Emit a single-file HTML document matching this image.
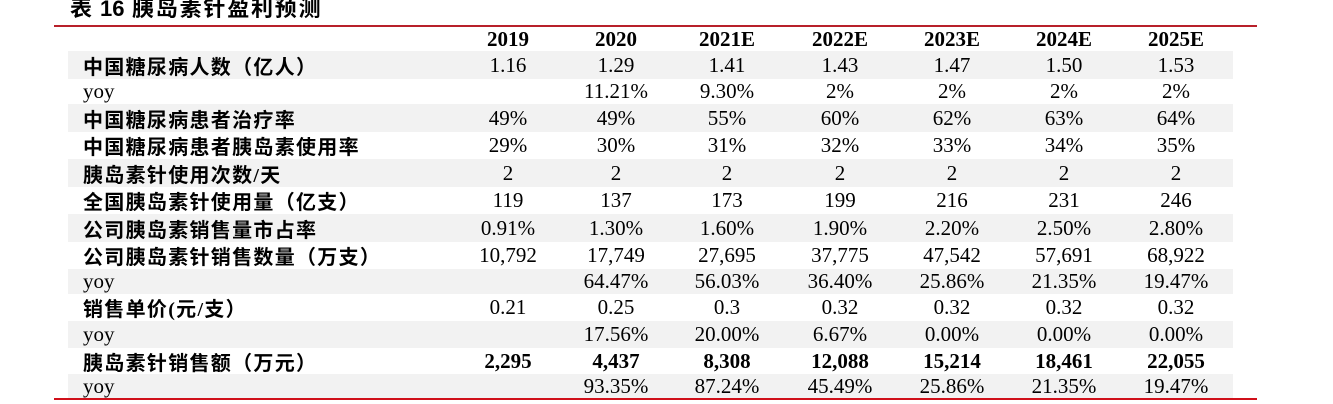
<!DOCTYPE html>
<html><head><meta charset="utf-8">
<style>
html,body{margin:0;padding:0;background:#fff;}
body{width:1333px;height:404px;position:relative;overflow:hidden;}
.t{position:absolute;font-family:"Liberation Sans","Noto Sans CJK SC",sans-serif;font-weight:bold;font-size:22px;line-height:22px;top:-2px;color:#000;white-space:nowrap;}
.line{position:absolute;left:54px;width:1203px;height:2px;}
.row{position:absolute;left:0;width:1333px;}
.bg{position:absolute;left:68px;width:1165px;top:0;bottom:0;background:#f2f2f2;}
.lab{position:absolute;left:83px;top:0;bottom:0;display:flex;align-items:center;font-family:"Liberation Serif","Noto Sans CJK SC",serif;font-weight:bold;font-size:20px;letter-spacing:1.3px;color:#000;white-space:nowrap;}
.lab.y{font-weight:normal;font-size:21px;letter-spacing:0;}
.c{position:absolute;top:0;bottom:0;width:120px;display:flex;align-items:center;justify-content:center;font-family:"Liberation Serif",serif;font-size:21px;color:#000;white-space:nowrap;}
.b .c{font-weight:bold;}
</style></head><body>
<div class="t" style="left:70px;">表</div>
<div class="t" style="left:100px;">16</div>
<div class="t" style="left:132px;letter-spacing:1.8px;">胰岛素针盈利预测</div>
<div class="line" style="top:25px;background:#b8202a;"></div>

<div class="row b" style="top:27px;height:24px;">
<div class="c" style="left:448px">2019</div><div class="c" style="left:556px">2020</div><div class="c" style="left:667px">2021E</div><div class="c" style="left:780px">2022E</div><div class="c" style="left:892px">2023E</div><div class="c" style="left:1004px">2024E</div><div class="c" style="left:1116px">2025E</div>
</div>

<div class="row" style="top:51px;height:28px;"><div class="bg"></div><div class="lab">中国糖尿病人数（亿人）</div>
<div class="c" style="left:448px">1.16</div><div class="c" style="left:556px">1.29</div><div class="c" style="left:667px">1.41</div><div class="c" style="left:780px">1.43</div><div class="c" style="left:892px">1.47</div><div class="c" style="left:1004px">1.50</div><div class="c" style="left:1116px">1.53</div></div>

<div class="row" style="top:79px;height:25px;"><div class="lab y">yoy</div>
<div class="c" style="left:556px">11.21%</div><div class="c" style="left:667px">9.30%</div><div class="c" style="left:780px">2%</div><div class="c" style="left:892px">2%</div><div class="c" style="left:1004px">2%</div><div class="c" style="left:1116px">2%</div></div>

<div class="row" style="top:104px;height:28px;"><div class="bg"></div><div class="lab">中国糖尿病患者治疗率</div>
<div class="c" style="left:448px">49%</div><div class="c" style="left:556px">49%</div><div class="c" style="left:667px">55%</div><div class="c" style="left:780px">60%</div><div class="c" style="left:892px">62%</div><div class="c" style="left:1004px">63%</div><div class="c" style="left:1116px">64%</div></div>

<div class="row" style="top:132px;height:27px;"><div class="lab">中国糖尿病患者胰岛素使用率</div>
<div class="c" style="left:448px">29%</div><div class="c" style="left:556px">30%</div><div class="c" style="left:667px">31%</div><div class="c" style="left:780px">32%</div><div class="c" style="left:892px">33%</div><div class="c" style="left:1004px">34%</div><div class="c" style="left:1116px">35%</div></div>

<div class="row" style="top:159px;height:28px;"><div class="bg"></div><div class="lab">胰岛素针使用次数/天</div>
<div class="c" style="left:448px">2</div><div class="c" style="left:556px">2</div><div class="c" style="left:667px">2</div><div class="c" style="left:780px">2</div><div class="c" style="left:892px">2</div><div class="c" style="left:1004px">2</div><div class="c" style="left:1116px">2</div></div>

<div class="row" style="top:187px;height:27px;"><div class="lab">全国胰岛素针使用量（亿支）</div>
<div class="c" style="left:448px">119</div><div class="c" style="left:556px">137</div><div class="c" style="left:667px">173</div><div class="c" style="left:780px">199</div><div class="c" style="left:892px">216</div><div class="c" style="left:1004px">231</div><div class="c" style="left:1116px">246</div></div>

<div class="row" style="top:214px;height:28px;"><div class="bg"></div><div class="lab">公司胰岛素销售量市占率</div>
<div class="c" style="left:448px">0.91%</div><div class="c" style="left:556px">1.30%</div><div class="c" style="left:667px">1.60%</div><div class="c" style="left:780px">1.90%</div><div class="c" style="left:892px">2.20%</div><div class="c" style="left:1004px">2.50%</div><div class="c" style="left:1116px">2.80%</div></div>

<div class="row" style="top:242px;height:27px;"><div class="lab">公司胰岛素针销售数量（万支）</div>
<div class="c" style="left:448px">10,792</div><div class="c" style="left:556px">17,749</div><div class="c" style="left:667px">27,695</div><div class="c" style="left:780px">37,775</div><div class="c" style="left:892px">47,542</div><div class="c" style="left:1004px">57,691</div><div class="c" style="left:1116px">68,922</div></div>

<div class="row" style="top:269px;height:25px;"><div class="bg"></div><div class="lab y">yoy</div>
<div class="c" style="left:556px">64.47%</div><div class="c" style="left:667px">56.03%</div><div class="c" style="left:780px">36.40%</div><div class="c" style="left:892px">25.86%</div><div class="c" style="left:1004px">21.35%</div><div class="c" style="left:1116px">19.47%</div></div>

<div class="row" style="top:294px;height:27px;"><div class="lab">销售单价(元/支）</div>
<div class="c" style="left:448px">0.21</div><div class="c" style="left:556px">0.25</div><div class="c" style="left:667px">0.3</div><div class="c" style="left:780px">0.32</div><div class="c" style="left:892px">0.32</div><div class="c" style="left:1004px">0.32</div><div class="c" style="left:1116px">0.32</div></div>

<div class="row" style="top:321px;height:27px;"><div class="bg"></div><div class="lab y">yoy</div>
<div class="c" style="left:556px">17.56%</div><div class="c" style="left:667px">20.00%</div><div class="c" style="left:780px">6.67%</div><div class="c" style="left:892px">0.00%</div><div class="c" style="left:1004px">0.00%</div><div class="c" style="left:1116px">0.00%</div></div>

<div class="row b" style="top:348px;height:26px;"><div class="lab">胰岛素针销售额（万元）</div>
<div class="c" style="left:448px">2,295</div><div class="c" style="left:556px">4,437</div><div class="c" style="left:667px">8,308</div><div class="c" style="left:780px">12,088</div><div class="c" style="left:892px">15,214</div><div class="c" style="left:1004px">18,461</div><div class="c" style="left:1116px">22,055</div></div>

<div class="row" style="top:374px;height:24px;"><div class="bg"></div><div class="lab y">yoy</div>
<div class="c" style="left:556px">93.35%</div><div class="c" style="left:667px">87.24%</div><div class="c" style="left:780px">45.49%</div><div class="c" style="left:892px">25.86%</div><div class="c" style="left:1004px">21.35%</div><div class="c" style="left:1116px">19.47%</div></div>

<div class="line" style="top:398px;background:#d0101a;"></div>
</body></html>
